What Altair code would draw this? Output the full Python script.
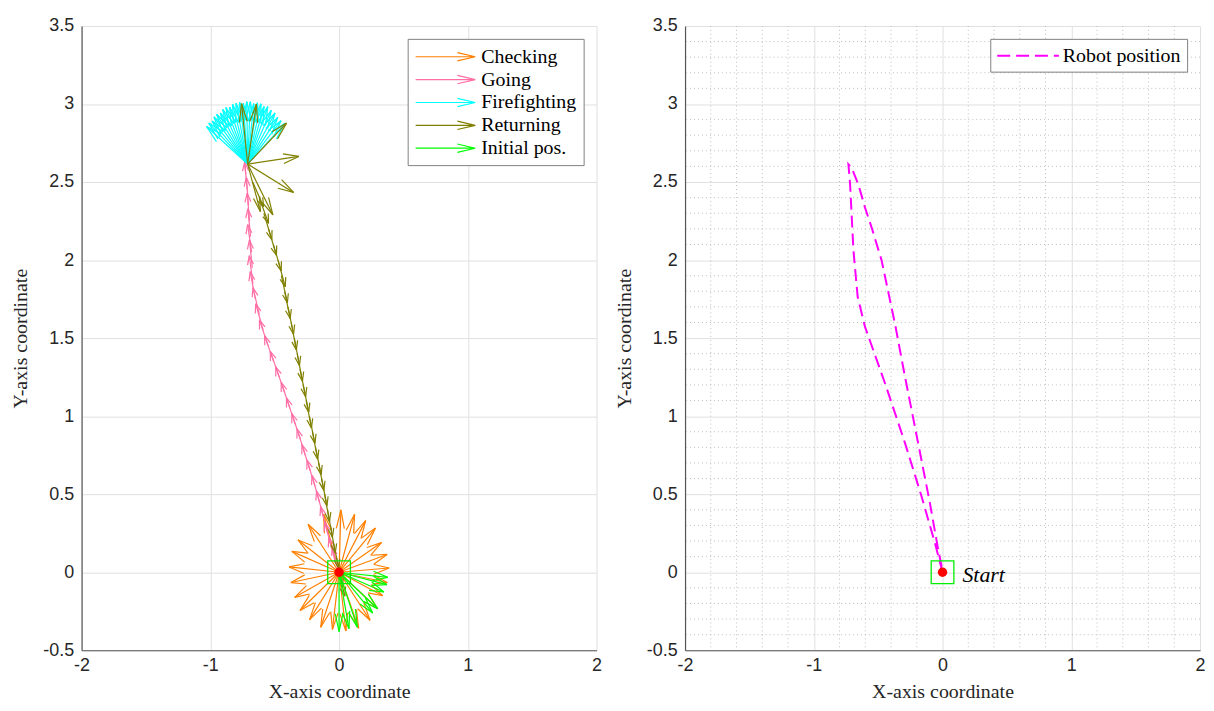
import math
import altair as alt
import pandas as pd

# ---------------- data ----------------
CATS = ["Checking", "Going", "Firefighting", "Returning", "Initial pos."]
COLORS = ["#FF8000", "#FF6FA6", "#00FFFF", "#808000", "#00FF00"]

X_TICKS = [-2, -1, 0, 1, 2]
Y_TICKS = [-0.5, 0, 0.5, 1, 1.5, 2, 2.5, 3, 3.5]
X_MINOR = [-1.8, -1.6, -1.4, -1.2, -0.8, -0.6, -0.4, -0.2, 0.2, 0.4, 0.6, 0.8, 1.2, 1.4, 1.6, 1.8]
Y_MINOR = [-0.4, -0.3, -0.2, -0.1, 0.1, 0.2, 0.3, 0.4, 0.6, 0.7, 0.8, 0.9, 1.1, 1.2, 1.3, 1.4,
           1.6, 1.7, 1.8, 1.9, 2.1, 2.2, 2.3, 2.4, 2.6, 2.7, 2.8, 2.9, 3.1, 3.2, 3.3, 3.4]

start_x = [0.0]
start_y = [0.0]
fan_x = -0.71
fan_y = 2.615

# Checking: star of arrows at the start point (angle in degrees, length)
check_ang = [88, 72, 58, 45, 30, 17, 4, -10, -24, -38, -52, -67, -82, -98, -112, -127,
             -141, -155, -170, 175, 160, 147, 128, 108]
check_len = [0.40, 0.39, 0.39, 0.40, 0.38, 0.39, 0.39, 0.38, 0.37, 0.38, 0.39, 0.39,
             0.38, 0.37, 0.38, 0.38, 0.39, 0.38, 0.38, 0.39, 0.39, 0.38, 0.39, 0.39]

# Going: arrows along the outward path
going_x = [-0.005, -0.024, -0.056, -0.088, -0.120, -0.152, -0.187, -0.224, -0.262, -0.300,
           -0.341, -0.382, -0.422, -0.464, -0.508, -0.551, -0.589, -0.619, -0.650, -0.669,
           -0.674, -0.679, -0.687, -0.695, -0.704, -0.714, -0.725]
going_y = [0.00, 0.05, 0.15, 0.25, 0.35, 0.45, 0.55, 0.65, 0.75, 0.85, 0.95, 1.05, 1.15,
           1.25, 1.35, 1.45, 1.55, 1.65, 1.75, 1.85, 1.95, 2.05, 2.15, 2.25, 2.35, 2.45, 2.55]
going_ang = [106, 108, 108, 108, 108, 109, 110, 111, 111, 112, 112, 112, 113, 113, 113, 112,
             109, 106, 103, 99, 97, 100, 97, 96, 95, 96, 97]
going_len = [0.17, 0.18, 0.18, 0.18, 0.18, 0.18, 0.18, 0.18, 0.18, 0.18, 0.18, 0.18, 0.18,
             0.18, 0.18, 0.18, 0.18, 0.18, 0.18, 0.18, 0.18, 0.18, 0.18, 0.18, 0.18, 0.18, 0.18]

# Firefighting: fan of arrows at the fire location
fire_ang = [143, 139, 135, 131, 127, 123, 119, 115, 111, 107, 103, 99, 95, 91, 87, 83, 79,
            75, 71, 67, 62, 57, 52, 47, 42]
fire_len = [0.40, 0.40, 0.39, 0.40, 0.40, 0.39, 0.40, 0.40, 0.39, 0.40, 0.40, 0.40, 0.39,
            0.40, 0.40, 0.39, 0.40, 0.40, 0.39, 0.40, 0.39, 0.39, 0.38, 0.38, 0.39]

# Returning: arrows at the fire location, then along the way back
ret_top_ang = [97, 80, 41, 7, -27, -72, -59]
ret_top_len = [0.39, 0.39, 0.40, 0.40, 0.40, 0.32, 0.38]
ret_x = [-0.671, -0.621, -0.584, -0.548, -0.511, -0.474, -0.448, -0.423, -0.397, -0.372,
         -0.348, -0.325, -0.303, -0.279, -0.255, -0.231, -0.207, -0.183, -0.159, -0.135,
         -0.112, -0.089, -0.067, -0.046, -0.021, -0.005]
ret_y = [2.50, 2.40, 2.30, 2.20, 2.10, 2.00, 1.90, 1.80, 1.70, 1.60, 1.50, 1.40, 1.30,
         1.20, 1.10, 1.00, 0.90, 0.80, 0.70, 0.60, 0.50, 0.40, 0.30, 0.20, 0.10, 0.02]
ret_ang = [-62, -66, -70, -70, -70, -72, -75, -76, -76, -77, -77, -77, -76, -76, -77, -76,
           -77, -76, -77, -77, -78, -78, -78, -76, -74, -74]
ret_len = [0.18, 0.18, 0.18, 0.18, 0.18, 0.18, 0.18, 0.18, 0.18, 0.18, 0.18, 0.18, 0.18,
           0.18, 0.18, 0.18, 0.18, 0.18, 0.18, 0.18, 0.18, 0.18, 0.18, 0.18, 0.18, 0.18]

# Initial pos.: arrows at the start point
init_ang = [-5, -12, -20, -38, -45, -68, -78, -90]
init_len = [0.38, 0.38, 0.37, 0.38, 0.37, 0.38, 0.37, 0.38]

# Robot position path (right panel)
path_x = [0.0, -0.06, -0.164, -0.292, -0.447, -0.602, -0.659, -0.692, -0.718, -0.731,
          -0.706, -0.654, -0.602, -0.551, -0.473, -0.37, -0.292, -0.19, -0.099, -0.035, -0.005]
path_y = [0.0, 0.19, 0.489, 0.829, 1.211, 1.572, 1.763, 2.06, 2.485, 2.613,
          2.59, 2.485, 2.336, 2.209, 1.997, 1.594, 1.254, 0.829, 0.447, 0.15, 0.03]


# ---------------- arrow geometry (MATLAB quiver style heads) ----------------
rows = []


def add_arrows(phase, xs, ys, angs, lens, alpha=0.30, beta=0.26):
    for x, y, a, L in zip(xs, ys, angs, lens):
        u = L * math.cos(math.radians(a))
        v = L * math.sin(math.radians(a))
        tx, ty = x + u, y + v
        rows.append(dict(phase=phase, x=x, y=y, x2=tx, y2=ty))
        rows.append(dict(phase=phase, x=tx, y=ty,
                         x2=tx - alpha * (u + beta * v), y2=ty - alpha * (v - beta * u)))
        rows.append(dict(phase=phase, x=tx, y=ty,
                         x2=tx - alpha * (u - beta * v), y2=ty - alpha * (v + beta * u)))


add_arrows("Checking", [start_x[0]] * len(check_ang), [start_y[0]] * len(check_ang), check_ang, check_len)
add_arrows("Going", going_x, going_y, going_ang, going_len, 0.32, 0.40)
add_arrows("Firefighting", [fan_x] * len(fire_ang), [fan_y] * len(fire_ang), fire_ang, fire_len)
add_arrows("Returning", [fan_x] * len(ret_top_ang), [fan_y] * len(ret_top_ang), ret_top_ang, ret_top_len)
add_arrows("Returning", ret_x, ret_y, ret_ang, ret_len, 0.32, 0.40)
add_arrows("Initial pos.", [start_x[0]] * len(init_ang), [start_y[0]] * len(init_ang), init_ang, init_len)
arrow_df = pd.DataFrame(rows)

start_df = pd.DataFrame({"x": start_x, "y": start_y, "label": ["Start"]})
path_df = pd.DataFrame({"x": path_x, "y": path_y, "step": list(range(len(path_x))),
                        "series": ["Robot position"] * len(path_x)})
minor_x_df = pd.DataFrame({"v": X_MINOR})
minor_y_df = pd.DataFrame({"v": Y_MINOR})

# ---------------- chart ----------------
W, H = 518, 628
xs = alt.Scale(domain=[-2, 2], nice=False, zero=False)
ys = alt.Scale(domain=[-0.5, 3.5], nice=False, zero=False)
HYPHEN = "replace(datum.label, '\u2212', '-')"


def x_axis():
    return alt.Axis(values=X_TICKS, format="~g", labelExpr=HYPHEN, title="X-axis coordinate",
                    grid=True, labelFlush=False, labelPadding=6, titlePadding=7)


def y_axis():
    return alt.Axis(values=Y_TICKS, format="~g", labelExpr=HYPHEN, title="Y-axis coordinate",
                    grid=True, labelFlush=False, labelPadding=8, titlePadding=12)


def X(field):
    return alt.X(field, scale=xs, axis=x_axis())


def Y(field):
    return alt.Y(field, scale=ys, axis=y_axis())


# legend symbols: size 400 -> unit = 10px; drawn from -10px to +50px around the symbol centre
ARROW_PATH = "M-1,0L5,0M3.2,-0.42L5,0L3.2,0.42"
DASH_PATH = "M-1,0L5.2,0"

arrows = alt.Chart(arrow_df).mark_rule(strokeWidth=1.2).encode(
    x=X("x:Q"),
    y=Y("y:Q"),
    x2="x2:Q",
    y2="y2:Q",
    color=alt.Color("phase:N", scale=alt.Scale(domain=CATS, range=COLORS), sort=CATS,
                    legend=alt.Legend(title=None, orient="top-right", offset=13, padding=7,
                                      rowPadding=2, labelFont="Liberation Serif",
                                      labelFontSize=20, labelColor="#000000", labelOffset=45,
                                      symbolType=ARROW_PATH, symbolSize=400,
                                      symbolStrokeWidth=1.2, symbolFillColor="transparent",
                                      fillColor="white", strokeColor="#808080")),
)

square = alt.Chart(start_df).mark_point(shape="square", filled=False, color="#00EE00",
                                        size=520, strokeWidth=1.3, opacity=1).encode(
    x=X("x:Q"), y=Y("y:Q"))
dot = alt.Chart(start_df).mark_circle(color="#FF0000", size=90, opacity=1).encode(
    x=X("x:Q"), y=Y("y:Q"))

left = alt.layer(arrows, square, dot).properties(width=W, height=H)

minor_v = alt.Chart(minor_x_df).mark_rule(color="#bdbdbd", strokeWidth=1, strokeDash=[1, 3]).encode(
    x=X("v:Q"))
minor_h = alt.Chart(minor_y_df).mark_rule(color="#bdbdbd", strokeWidth=1, strokeDash=[1, 3]).encode(
    y=Y("v:Q"))

path = alt.Chart(path_df).mark_line(strokeWidth=2, strokeDash=[12, 6]).encode(
    x=X("x:Q"),
    y=Y("y:Q"),
    order=alt.Order("step:Q"),
    color=alt.Color("series:N", scale=alt.Scale(domain=["Robot position"], range=["#FF00FF"]),
                    legend=alt.Legend(title=None, orient="top-right", offset=13, padding=6,
                                      labelFont="Liberation Serif", labelFontSize=20,
                                      labelColor="#000000", labelOffset=45,
                                      symbolType=DASH_PATH, symbolSize=400,
                                      symbolDash=[13, 6], symbolStrokeWidth=2,
                                      symbolFillColor="transparent",
                                      fillColor="white", strokeColor="#808080")),
)

start_text = alt.Chart(start_df).mark_text(align="left", baseline="middle", dx=20, dy=3,
                                           font="Liberation Serif", fontStyle="italic",
                                           fontSize=22, color="#000000").encode(
    x=X("x:Q"), y=Y("y:Q"), text="label:N")

right = alt.layer(minor_v, minor_h, path, square, dot, start_text).properties(width=W, height=H)

chart = alt.hconcat(left, right, spacing=11).resolve_scale(color="independent").properties(
    padding={"left": 2, "top": 7, "right": 0, "bottom": 0}
).configure_view(stroke=None).configure_axis(
    labelFont="Liberation Sans", labelFontSize=18, labelColor="#262626",
    titleFont="Liberation Serif", titleFontSize=20, titleFontWeight="normal", titleColor="#262626",
    domainColor="#555555", domainWidth=1.2, gridColor="#e0e0e0", gridWidth=1, ticks=False,
)

chart.save("out.html", embed_options={"renderer": "svg", "actions": False})
